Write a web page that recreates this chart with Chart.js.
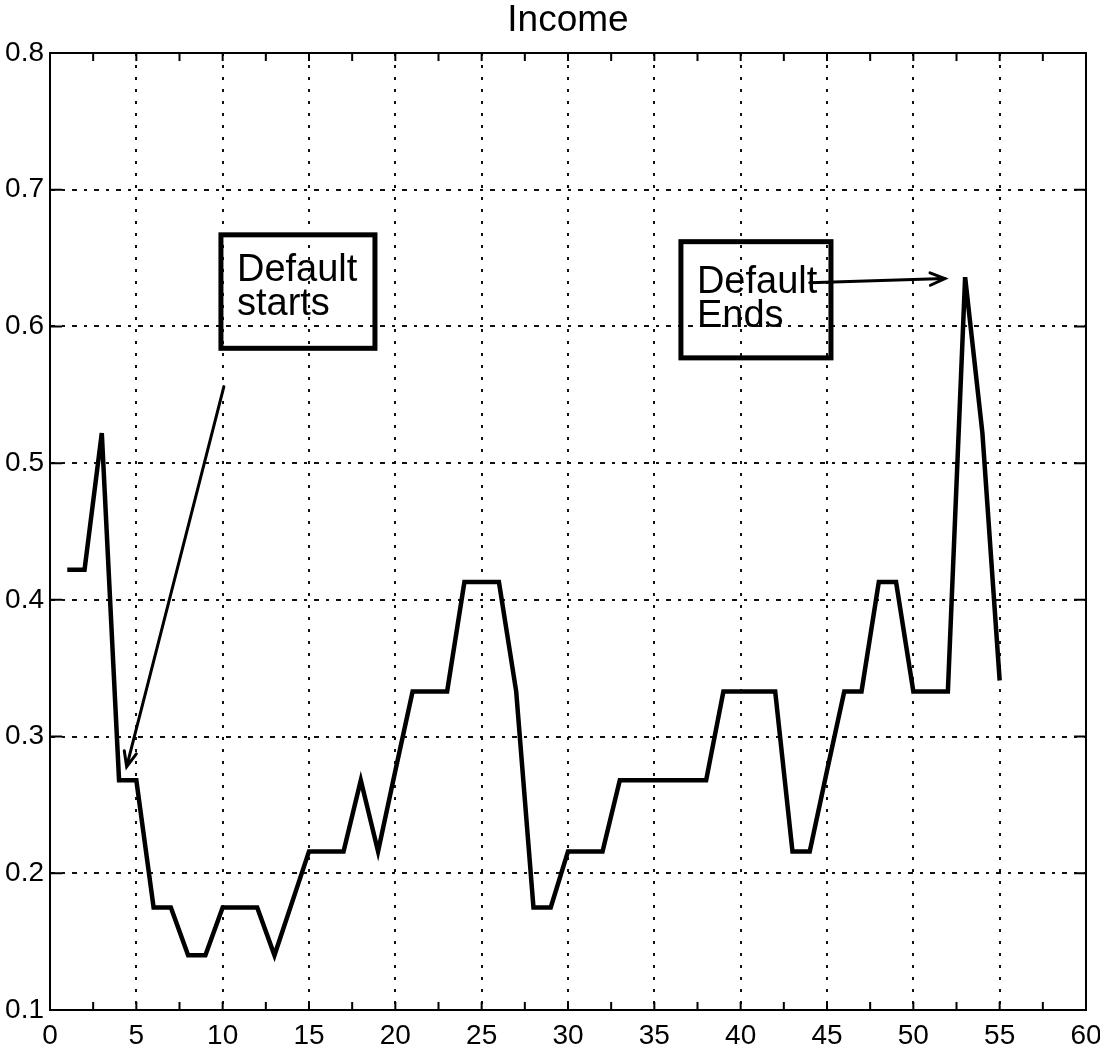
<!DOCTYPE html>
<html>
<head>
<meta charset="utf-8">
<script src="https://cdn.jsdelivr.net/npm/chart.js@4/dist/chart.umd.min.js"></script>
<style>
  html, body { margin: 0; padding: 0; background: #fff; }
  #wrap { width: 1100px; height: 1046px; }
</style>
</head>
<body>
<div id="wrap"><canvas id="incomeChart"></canvas></div>
<script>
// data
const periods = [1, 2, 3, 4, 5, 6, 7, 8, 9, 10, 11, 12, 13, 14, 15, 16, 17, 18, 19, 20,
  21, 22, 23, 24, 25, 26, 27, 28, 29, 30, 31, 32, 33, 34, 35, 36, 37, 38, 39, 40,
  41, 42, 43, 44, 45, 46, 47, 48, 49, 50, 51, 52, 53, 54, 55];
const income = [0.422, 0.422, 0.522, 0.268, 0.268, 0.175, 0.175, 0.14, 0.14, 0.175,
  0.175, 0.175, 0.14, 0.178, 0.216, 0.216, 0.216, 0.268, 0.216, 0.275,
  0.333, 0.333, 0.333, 0.413, 0.413, 0.413, 0.333, 0.175, 0.175, 0.216,
  0.216, 0.216, 0.268, 0.268, 0.268, 0.268, 0.268, 0.268, 0.333, 0.333,
  0.333, 0.333, 0.216, 0.216, 0.275, 0.333, 0.333, 0.413, 0.413, 0.333,
  0.333, 0.333, 0.636, 0.522, 0.341];
const xTicks = [0, 5, 10, 15, 20, 25, 30, 35, 40, 45, 50, 55, 60];
const yTicks = [0.1, 0.2, 0.3, 0.4, 0.5, 0.6, 0.7, 0.8];
const noteTexts = [['Default', 'starts'], ['Default', 'Ends']];

// where the notes sit (data units)
const noteBoxes = [
  { x1: 9.9, x2: 18.82, y1: 0.667, y2: 0.584, dx: 16, dy: 46 },
  { x1: 36.54, x2: 45.23, y1: 0.662, y2: 0.577, dx: 16, dy: 51 }
];
const noteArrows = [
  { from: [10.07, 0.556], to: [4.44, 0.278] },
  { from: [44.0, 0.632], to: [51.83, 0.635] }
];

const FONT = 'Liberation Sans, Arial, sans-serif';

const matlabFrame = {
  id: 'matlabFrame',
  afterDraw(chart) {
    const { ctx, chartArea: a, scales: { x, y } } = chart;
    ctx.save();
    ctx.strokeStyle = '#000';
    ctx.lineWidth = 2;
    ctx.strokeRect(a.left, a.top, a.right - a.left, a.bottom - a.top);

    // inward tick marks
    ctx.beginPath();
    for (let v = 0; v <= 60; v += 2.5) {
      const px = x.getPixelForValue(v);
      ctx.moveTo(px, a.bottom); ctx.lineTo(px, a.bottom - 8);
      ctx.moveTo(px, a.top); ctx.lineTo(px, a.top + 8);
    }
    yTicks.forEach(v => {
      const py = y.getPixelForValue(v);
      ctx.moveTo(a.left, py); ctx.lineTo(a.left + 12, py);
      ctx.moveTo(a.right, py); ctx.lineTo(a.right - 12, py);
    });
    ctx.stroke();

    // annotation boxes
    ctx.lineWidth = 5;
    ctx.font = '38px ' + FONT;
    ctx.fillStyle = '#000';
    ctx.textBaseline = 'alphabetic';
    noteBoxes.forEach((b, i) => {
      const l = x.getPixelForValue(b.x1), r = x.getPixelForValue(b.x2);
      const t = y.getPixelForValue(b.y1), btm = y.getPixelForValue(b.y2);
      ctx.strokeRect(l, t, r - l, btm - t);
      noteTexts[i].forEach((line, k) => {
        ctx.fillText(line, l + b.dx, t + b.dy + k * 34);
      });
    });

    // arrows
    ctx.lineWidth = 3;
    ctx.lineCap = 'round';
    noteArrows.forEach(ar => {
      const x0 = x.getPixelForValue(ar.from[0]), y0 = y.getPixelForValue(ar.from[1]);
      const x1 = x.getPixelForValue(ar.to[0]), y1 = y.getPixelForValue(ar.to[1]);
      const ang = Math.atan2(y1 - y0, x1 - x0);
      const head = 16, spread = 0.4;
      ctx.beginPath();
      ctx.moveTo(x0, y0); ctx.lineTo(x1, y1);
      ctx.moveTo(x1 - head * Math.cos(ang - spread), y1 - head * Math.sin(ang - spread));
      ctx.lineTo(x1, y1);
      ctx.lineTo(x1 - head * Math.cos(ang + spread), y1 - head * Math.sin(ang + spread));
      ctx.stroke();
    });
    ctx.restore();
  }
};

new Chart(document.getElementById('incomeChart'), {
  type: 'line',
  data: {
    labels: periods,
    datasets: [{
      label: 'Income',
      data: periods.map((p, i) => ({ x: p, y: income[i] })),
      borderColor: '#000',
      borderWidth: 4.5,
      borderJoinStyle: 'miter',
      pointRadius: 0,
      tension: 0,
      fill: false
    }]
  },
  options: {
    responsive: true,
    maintainAspectRatio: false,
    animation: false,
    layout: { padding: { right: 14, left: 0, top: 0, bottom: 0 } },
    plugins: {
      legend: { display: false },
      tooltip: { enabled: false },
      title: {
        display: true,
        text: 'Income',
        fullSize: false,
        color: '#000',
        font: { family: FONT, size: 37, weight: 'normal', lineHeight: 1.1 },
        padding: { top: 0, bottom: 12.3 }
      }
    },
    scales: {
      x: {
        type: 'linear',
        min: 0, max: 60,
        afterBuildTicks: s => { s.ticks = xTicks.map(v => ({ value: v })); },
        afterFit: s => { s.height = 36; s.paddingLeft = 0; s.paddingRight = 0; },
        grid: { color: '#111', lineWidth: 2, drawTicks: false },
        border: { display: false, dash: [3, 9] },
        ticks: { color: '#000', padding: 9, font: { family: FONT, size: 28 } }
      },
      y: {
        type: 'linear',
        min: 0.1, max: 0.8,
        afterBuildTicks: s => { s.ticks = yTicks.map(v => ({ value: v })); },
        afterFit: s => { s.width = 50; s.paddingTop = 0; s.paddingBottom = 0; },
        grid: { color: '#111', lineWidth: 2, drawTicks: false },
        border: { display: false, dash: [5, 7, 3, 7] },
        ticks: {
          color: '#000', padding: 6, font: { family: FONT, size: 28 },
          callback: v => v.toFixed(1)
        }
      }
    }
  },
  plugins: [matlabFrame]
});
</script>
</body>
</html>
